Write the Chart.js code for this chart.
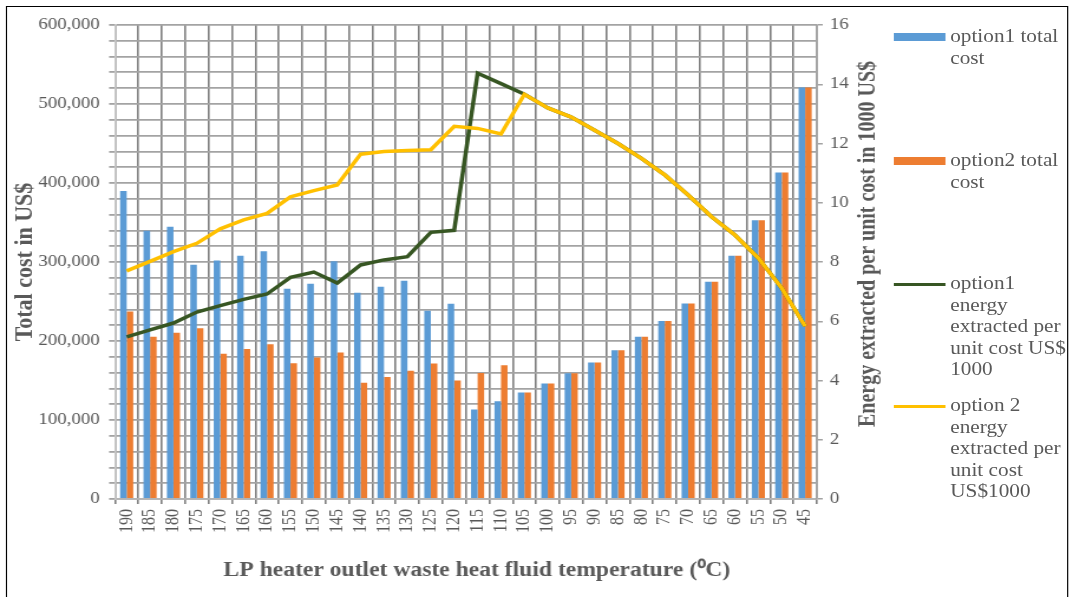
<!DOCTYPE html>
<html>
<head>
<meta charset="utf-8">
<script src="https://cdn.jsdelivr.net/npm/chart.js@4.4.1/dist/chart.umd.min.js"></script>
<style>
  html, body { margin: 0; padding: 0; background: #fff; }
  body { width: 1073px; height: 597px; position: relative; overflow: hidden; }
  /* the original picture is stretched sideways, so draw at 909px and widen */
  #wrap { position: absolute; left: 0; top: 0; width: 909px; height: 597px; transform: scaleX(1.1804); transform-origin: 0 0; }
  #frame { position: absolute; left: 5px; top: 6px; width: 900px; height: 600px; border: 1px solid #000; box-sizing: border-box; }
  canvas { position: absolute; left: 0; top: 0; }
  .leg { position: absolute; left: 757px; font-family: "Liberation Serif", serif; font-size: 18px; color: #595959; }
  .leg .sw { position: absolute; left: 0; width: 44px; }
  .leg .tx { position: absolute; left: 48px; top: 0; line-height: 21.6px; white-space: nowrap; }
</style>
</head>
<body>
<div id="wrap">
<div id="frame"></div>
<canvas id="grafik" width="909" height="597"></canvas>

<div class="leg" style="top:26px"><div class="sw" style="top:7px;height:8px;background:#5b9bd5"></div><div class="tx">option1 total<br>cost</div></div>
<div class="leg" style="top:150px"><div class="sw" style="top:7px;height:8px;background:#ed7d31"></div><div class="tx">option2 total<br>cost</div></div>
<div class="leg" style="top:273px"><div class="sw" style="top:10px;height:3px;background:#375623"></div><div class="tx">option1<br>energy<br>extracted per<br>unit cost US$<br>1000</div></div>
<div class="leg" style="top:395px"><div class="sw" style="top:10px;height:3px;background:#ffc000"></div><div class="tx">option 2<br>energy<br>extracted per<br>unit cost<br>US$1000</div></div>
</div>

<script>
// LP heater outlet temperature (C)
var suhu = [190, 185, 180, 175, 170, 165, 160, 155, 150, 145, 140, 135, 130, 125, 120,
    115, 110, 105, 100, 95, 90, 85, 80, 75, 70, 65, 60, 55, 50, 45];

// total cost US$
var biaya1 = [389900, 339400, 344500, 296500, 301900, 307800, 313700, 266100, 272400, 301000,
    261000, 268600, 276200, 238300, 247200, 113300, 123800, 134800, 146200, 159200,
    172700, 188200, 205500, 225200, 247600, 275000, 307800, 352800, 413400, 520800];
var biaya2 = [237500, 205500, 210500, 216000, 184000, 189900, 195800, 171800, 179000, 185300,
    147000, 154500, 162500, 171400, 150000, 159500, 169300, 134800, 146200, 159200,
    172700, 188200, 205500, 225200, 247600, 275000, 307800, 352800, 413400, 520800];

// energy extracted per unit cost (1000 US$)
var energi1 = [5.47, 5.71, 5.94, 6.31, 6.53, 6.74, 6.92, 7.48, 7.66, 7.29,
    7.90, 8.07, 8.18, 9.00, 9.07, 14.37, 14.02, 13.66, 13.20, 12.89,
    12.45, 12.00, 11.50, 10.94, 10.26, 9.53, 8.91, 8.13, 7.12, 5.83];
var energi2 = [7.70, 8.02, 8.35, 8.63, 9.12, 9.42, 9.64, 10.20, 10.41, 10.60,
    11.64, 11.73, 11.76, 11.79, 12.58, 12.51, 12.32, 13.66, 13.20, 12.89,
    12.45, 12.00, 11.50, 10.94, 10.26, 9.53, 8.91, 8.13, 7.12, 5.83];

var judulX = 'LP heater outlet waste heat fluid temperature (\u2070C)';
var judulKanan = 'Energy extracted per unit cost in 1000 US$';

var abu = '#595959';
var huruf = 'Liberation Serif';

// titles drawn by hand: right one reads bottom-to-top like the original
var judulPlugin = {
    id: 'judul',
    afterDraw: function (chart) {
        var c = chart.ctx;
        var a = chart.chartArea;
        c.save();
        c.fillStyle = abu;
        c.font = 'bold 20px "' + huruf + '"';
        c.textAlign = 'center';
        c.textBaseline = 'middle';
        c.fillText(judulX, 404, 571);
        c.translate(a.right + 44, 244);
        c.rotate(-Math.PI / 2);
        c.fillText(judulKanan, 0, 0);
        c.restore();
    }
};

var ctx = document.getElementById('grafik').getContext('2d');
var chart = new Chart(ctx, {
    type: 'bar',
    data: {
        labels: suhu,
        datasets: [{
            label: 'option1 total cost',
            data: biaya1,
            backgroundColor: '#5b9bd5',
            yAxisID: 'y',
            order: 3
        }, {
            label: 'option2 total cost',
            data: biaya2,
            backgroundColor: '#ed7d31',
            yAxisID: 'y',
            order: 4
        }, {
            type: 'line',
            label: 'option1 energy extracted per unit cost US$ 1000',
            data: energi1,
            borderColor: '#375623',
            borderWidth: 3.5,
            pointRadius: 0,
            tension: 0,
            yAxisID: 'y1',
            order: 2
        }, {
            type: 'line',
            label: 'option 2 energy extracted per unit cost US$1000',
            data: energi2,
            borderColor: '#ffc000',
            borderWidth: 3.5,
            pointRadius: 0,
            tension: 0,
            yAxisID: 'y1',
            order: 1
        }]
    },
    plugins: [judulPlugin],
    options: {
        responsive: false,
        animation: false,
        layout: { padding: { left: 8, top: 25, right: 184, bottom: 59 } },
        datasets: {
            bar: { categoryPercentage: 0.56, barPercentage: 1.0 }
        },
        plugins: {
            legend: { display: false },
            tooltip: { enabled: false }
        },
        scales: {
            x: {
                grid: { color: '#7f7f7f', lineWidth: 1.6, tickLength: 5 },
                border: { color: '#b4b4b4', width: 1.5 },
                ticks: {
                    color: abu, font: { family: huruf, size: 16 },
                    minRotation: 90, maxRotation: 90, autoSkip: false, padding: 5
                }
            },
            y: {
                position: 'left',
                min: 0, max: 600000,
                grid: { color: '#a3a3a3', lineWidth: 1.8, tickLength: 5 },
                border: { color: '#c8c8c8', width: 1.5 },
                ticks: {
                    stepSize: 20000, autoSkip: false,
                    color: abu, font: { family: huruf, size: 16 }, padding: 8,
                    callback: function (v) {
                        return v % 100000 === 0 ? v.toLocaleString('en-US') : '';
                    }
                },
                title: {
                    display: true,
                    text: 'Total cost in US$',
                    color: abu, font: { family: huruf, size: 22, weight: 'bold' },
                    padding: { top: 0, bottom: -10 }
                }
            },
            y1: {
                position: 'right',
                min: 0, max: 16,
                grid: { drawOnChartArea: false, color: '#a3a3a3', lineWidth: 1.5, tickLength: 5 },
                border: { color: '#a3a3a3', width: 1.5 },
                ticks: {
                    stepSize: 2,
                    color: abu, font: { family: huruf, size: 16 }, padding: 6
                }
            }
        }
    }
});
</script>
</body>
</html>
